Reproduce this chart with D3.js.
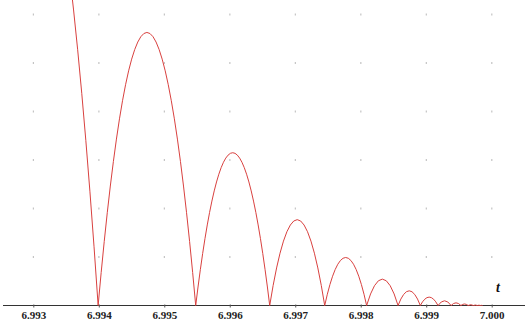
<!DOCTYPE html>
<html>
<head>
<meta charset="utf-8">
<script src="https://cdn.jsdelivr.net/npm/d3@7"></script>
<style>
  body { margin: 0; background: #fff; }
  svg { display: block; }
</style>
</head>
<body>
<svg id="chart" width="529" height="327"></svg>
<script>
// ground contact times of the bouncing curve
const contactTimes = [6.99199, 6.99399, 6.99548, 6.99661, 6.99745, 6.99809, 6.99857,
  6.99891, 6.99918, 6.99938, 6.99953, 6.99964, 6.99972, 6.99978, 6.99983, 6.99986];
// peak height of each arc between two contacts (grid units)
const peakHeights = [10.0, 5.63, 3.15, 1.77, 0.99, 0.544, 0.303, 0.173, 0.097,
  0.055, 0.031, 0.017, 0.010, 0.006, 0.003];
const tickValues = [6.993, 6.994, 6.995, 6.996, 6.997, 6.998, 6.999, 7.000];
const tickLabels = ["6.993", "6.994", "6.995", "6.996", "6.997", "6.998", "6.999", "7.000"];
const gridRows = [1, 2, 3, 4, 5, 6];

const svg = d3.select("#chart");

const x = d3.scaleLinear().domain([6.993, 7.000]).range([33.3, 491.7]);
const y = d3.scaleLinear().domain([0, 6]).range([305.5, 14.5]);

// faint grid dots
const grid = svg.append("g").attr("id", "grid");
tickValues.forEach(tv => {
  grid.selectAll(null)
    .data(gridRows)
    .enter()
    .append("rect")
    .attr("x", x(tv) - 0.5)
    .attr("y", d => y(d) - 1)
    .attr("width", 1.2)
    .attr("height", 2)
    .attr("fill", "#c4c4c4");
});

// axis line, longer than the tick range
svg.append("line")
  .attr("x1", 3)
  .attr("x2", 525)
  .attr("y1", y(0))
  .attr("y2", y(0))
  .attr("stroke", "#333")
  .attr("stroke-width", 1);

const xAxis = d3.axisBottom(x)
  .tickValues(tickValues)
  .tickFormat((d, i) => tickLabels[i])
  .tickSizeInner(2)
  .tickSizeOuter(0)
  .tickPadding(4);

const axisG = svg.append("g")
  .attr("transform", "translate(0," + y(0) + ")")
  .call(xAxis);
axisG.select(".domain").remove();
axisG.selectAll(".tick line").attr("stroke", "#555").attr("y1", -1);
axisG.selectAll(".tick text")
  .attr("font-family", "Liberation Serif")
  .attr("font-weight", "bold")
  .attr("font-size", "11px")
  .attr("fill", "#222");

svg.append("text")
  .attr("x", 498)
  .attr("y", 292)
  .attr("text-anchor", "middle")
  .attr("font-family", "Liberation Serif")
  .attr("font-style", "italic")
  .attr("font-weight", "bold")
  .attr("font-size", "14px")
  .attr("fill", "#111")
  .text("t");

// each arc is a parabola: quadratic bezier with control point at twice the peak
const p = d3.path();
peakHeights.forEach((h, i) => {
  const t0 = contactTimes[i];
  const t1 = contactTimes[i + 1];
  if (i === 0) p.moveTo(x(t0), y(0));
  p.quadraticCurveTo(x((t0 + t1) / 2), y(2 * h), x(t1), y(0));
});

svg.append("path")
  .attr("d", p.toString())
  .attr("fill", "none")
  .attr("stroke", "#d9413f")
  .attr("stroke-width", 1);
</script>
</body>
</html>
